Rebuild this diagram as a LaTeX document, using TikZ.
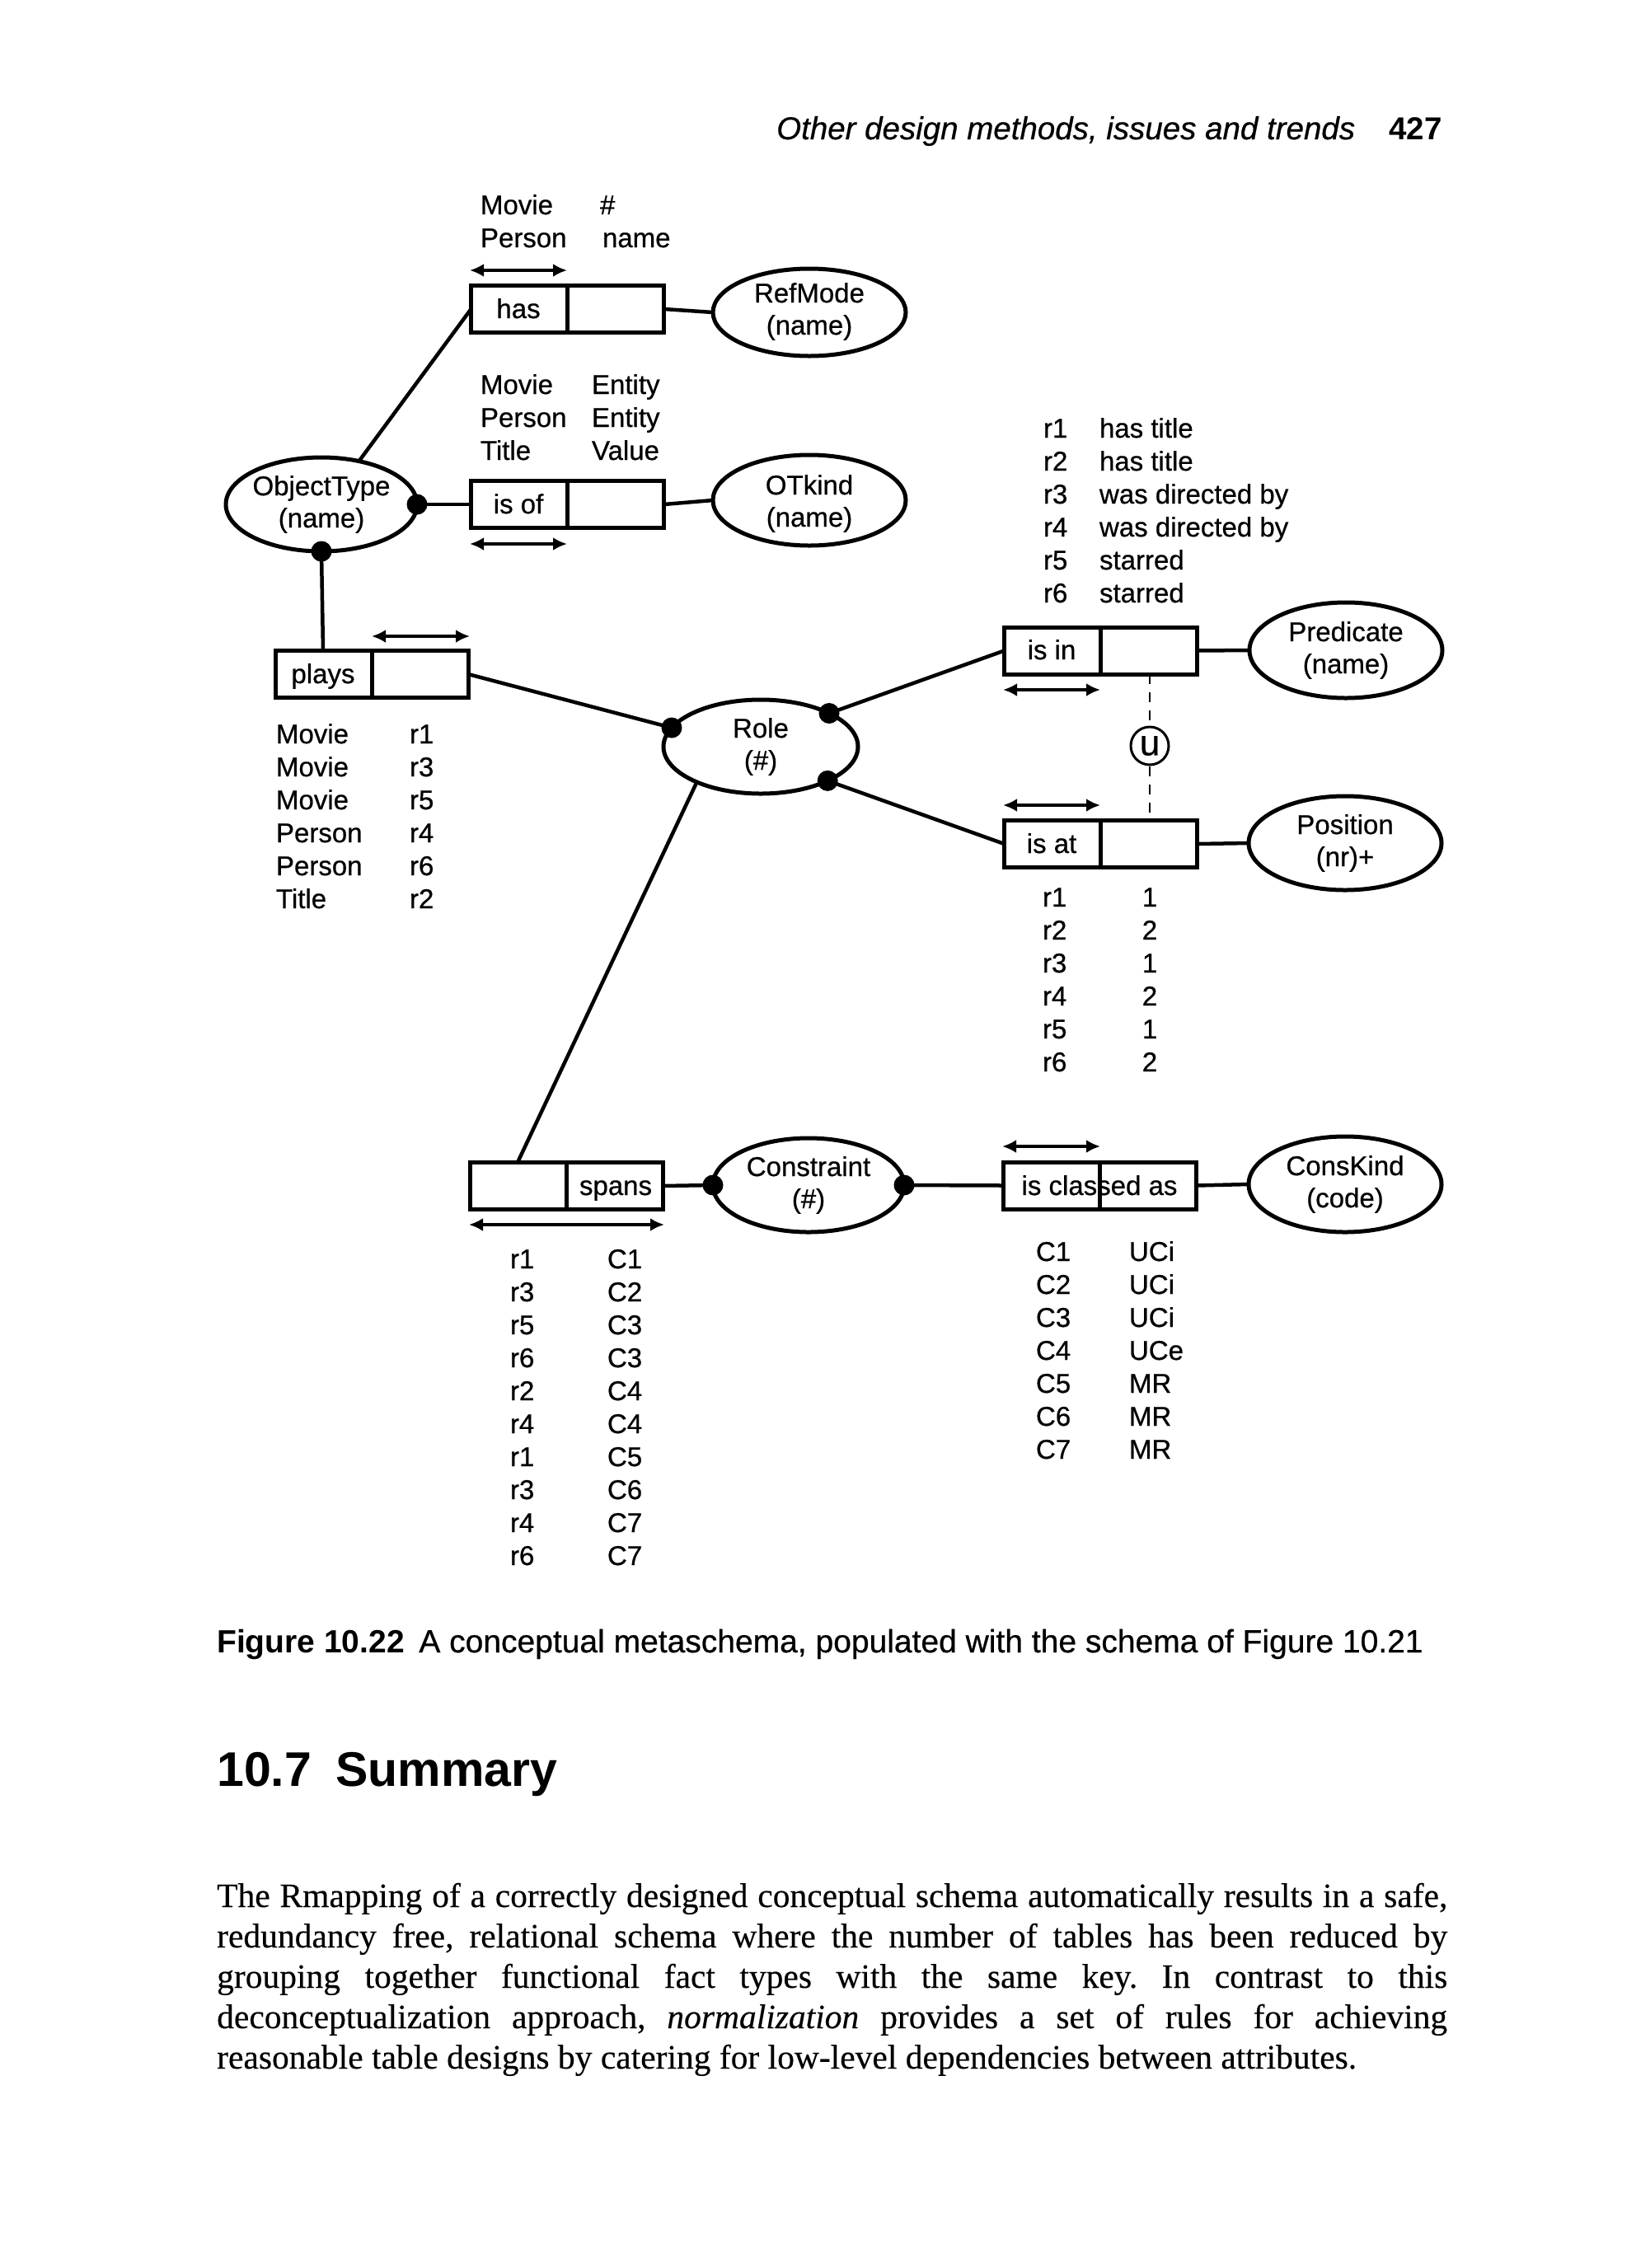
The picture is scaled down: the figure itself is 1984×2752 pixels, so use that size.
\documentclass[tikz,border=0pt]{standalone}
\usepackage{fontspec}
\setmainfont{Liberation Sans}
\newfontfamily\lblfont{Liberation Sans}[FakeBold=0.6]
\newfontfamily\bodyserif{Liberation Serif}[FakeBold=0.3]
\usetikzlibrary{shapes.geometric,arrows.meta}
\frenchspacing
\begin{document}
\begin{tikzpicture}[x=1pt,y=-1pt,
  lbl/.style={font=\lblfont\fontsize{33}{40}\selectfont, inner sep=0pt, outer sep=0pt, anchor=base west},
  ctr/.style={font=\lblfont\fontsize{33}{40}\selectfont, inner sep=0pt, outer sep=0pt, anchor=base},
  ent/.style={ellipse, draw, line width=5pt, minimum width=234pt, minimum height=114pt, inner sep=0pt, outer sep=0pt},
  fbox/.style={rectangle, draw, line width=5pt, minimum width=234pt, minimum height=57pt, inner sep=0pt, outer sep=0pt},
  conn/.style={line width=4.5pt},
  divider/.style={line width=5pt},
  uc/.style={line width=3.5pt, {Latex[length=17pt,width=16pt]}-{Latex[length=17pt,width=16pt]}},
  dot/.style={circle, fill, inner sep=0pt, outer sep=0pt, minimum size=25pt},
  dashline/.style={line width=2.5pt, dash pattern=on 12pt off 10pt},
]
\fill[white] (0,0) rectangle (1984,2752);
\useasboundingbox (0,0) rectangle (1984,2752);

% header
\node[anchor=base west, inner sep=0pt, font=\lblfont\fontsize{38.5}{46}\selectfont\itshape] (hdr) at (942,169) {Other design methods, issues and trends};
\node[anchor=base east, inner sep=0pt, font=\fontsize{38.5}{46}\selectfont\bfseries] (pg) at (1750,169) {427};

% entity ellipses
\node[ent, minimum height=106pt] (refmode) at (982,379) {};
\node[ent, minimum height=110pt] (otkind) at (982,607) {};
\node[ent, minimum width=232pt] (ot) at (390,612) {};
\node[ent, minimum width=236pt] (role) at (923,906) {};
\node[ent, minimum height=116pt] (pred) at (1633,789) {};
\node[ent] (pos) at (1632,1023) {};
\node[ent, minimum height=116pt] (ckind) at (1632,1437) {};
\node[ent, minimum width=232pt] (cons) at (981,1438) {};

% ellipse texts
\node[ctr] (refmode-a) at (982,367) {RefMode};
\node[ctr] (refmode-b) at (982,406) {(name)};
\node[ctr] (otkind-a) at (982,600) {OTkind};
\node[ctr] (otkind-b) at (982,639) {(name)};
\node[ctr] (ot-a) at (390,601) {ObjectType};
\node[ctr] (ot-b) at (390,640) {(name)};
\node[ctr] (role-a) at (923,895) {Role};
\node[ctr] (role-b) at (923,934) {(\#)};
\node[ctr] (pred-a) at (1633,778) {Predicate};
\node[ctr] (pred-b) at (1633,817) {(name)};
\node[ctr] (pos-a) at (1632,1012) {Position};
\node[ctr] (pos-b) at (1632,1051) {(nr)+};
\node[ctr] (ckind-a) at (1632,1426) {ConsKind};
\node[ctr] (ckind-b) at (1632,1465) {(code)};
\node[ctr] (cons-a) at (981,1427) {Constraint};
\node[ctr] (cons-b) at (981,1466) {(\#)};

% fact type boxes
\node[fbox] (has) at (688.5,375) {};
\node[fbox] (isof) at (688.5,612) {};
\node[fbox] (plays) at (451,818) {};
\node[fbox] (isin) at (1335.5,789.5) {};
\node[fbox] (isat) at (1335.5,1024) {};
\node[fbox] (iscl) at (1334,1438.5) {};
\node[fbox] (spans) at (687,1439) {};
\foreach \b in {has,isof,plays,isin,isat,iscl,spans}
  \draw[divider] (\b.north) -- (\b.south);

\node[ctr] (has-t) at (629,386) {has};
\node[ctr] (isof-t) at (629,623) {is of};
\node[ctr] (plays-t) at (392,829) {plays};
\node[ctr] (isin-t) at (1276,800) {is in};
\node[ctr] (isat-t) at (1276,1035) {is at};
\node[ctr] (iscl-t) at (1334,1450) {is classed as};
\node[ctr] (spans-t) at (747,1450) {spans};

% dots on entity borders
\node[dot] (d-ot-e) at (ot.east) {};
\node[dot] (d-ot-s) at (ot.south) {};
\node[dot] (d-role-w) at (role.168) {};
\node[dot] (d-role-ne) at (role.26) {};
\node[dot] (d-role-se) at (role.-27) {};
\node[dot] (d-cons-w) at (cons.west) {};
\node[dot] (d-cons-e) at (cons.east) {};

% connectors
\draw[conn] (ot.49) -- (has.west);
\draw[conn] (d-ot-e.center) -- (isof.west);
\draw[conn] (has.east) -- (refmode.west);
\draw[conn] (isof.east) -- (otkind.west);
\coordinate (plays-top) at (392,789.5);
\draw[conn] (d-ot-s.center) -- (plays-top);
\draw[conn] (plays.east) -- (d-role-w.center);
\draw[conn] (d-role-ne.center) -- (isin.west);
\draw[conn] (d-role-se.center) -- (isat.west);
\coordinate (spans-top) at (628,1410.5);
\draw[conn] (role.209) -- (spans-top);
\draw[conn] (spans.east) -- (d-cons-w.center);
\draw[conn] (d-cons-e.center) -- (iscl.west);
\draw[conn] (iscl.east) -- (ckind.west);
\draw[conn] (isin.east) -- (pred.west);
\draw[conn] (isat.east) -- (pos.west);

% uniqueness constraint
\node[circle, draw, line width=3pt, minimum size=46pt, inner sep=0pt, font=\lblfont\fontsize{44}{44}\selectfont] (uq) at (1395,905) {u};
\coordinate (isin-r) at (1395,818);
\coordinate (isat-r) at (1395,995.5);
\draw[dashline] (isin-r) -- (uq.north);
\draw[dashline] (uq.south) -- (isat-r);

% uniqueness arrows
\coordinate (u1a) at (570,328);   \coordinate (u1b) at (688,328);
\coordinate (u2a) at (570,660);   \coordinate (u2b) at (688,660);
\coordinate (u3a) at (451,772);   \coordinate (u3b) at (570,772);
\coordinate (u4a) at (1217,837);  \coordinate (u4b) at (1335,837);
\coordinate (u5a) at (1217,977);  \coordinate (u5b) at (1335,977);
\coordinate (u6a) at (1216,1391); \coordinate (u6b) at (1335,1391);
\coordinate (u7a) at (569,1486);  \coordinate (u7b) at (806,1486);
\draw[uc] (u1a) -- (u1b);
\draw[uc] (u2a) -- (u2b);
\draw[uc] (u3a) -- (u3b);
\draw[uc] (u4a) -- (u4b);
\draw[uc] (u5a) -- (u5b);
\draw[uc] (u6a) -- (u6b);
\draw[uc] (u7a) -- (u7b);

% population labels
\node[lbl] (h1a) at (583,260) {Movie};  \node[lbl] (h1b) at (728,260) {\#};
\node[lbl] (h2a) at (583,300) {Person}; \node[lbl] (h2b) at (731,300) {name};

\node[lbl] (k1a) at (583,478) {Movie};  \node[lbl] (k1b) at (718,478) {Entity};
\node[lbl] (k2a) at (583,518) {Person}; \node[lbl] (k2b) at (718,518) {Entity};
\node[lbl] (k3a) at (583,558) {Title};  \node[lbl] (k3b) at (718,558) {Value};

\foreach \r/\t [count=\i from 0] in {r1/has title,r2/has title,r3/was directed by,r4/was directed by,r5/starred,r6/starred}{
  \node[lbl] (p\i a) at (1266,531+40*\i) {\r};
  \node[lbl] (p\i b) at (1334,531+40*\i) {\t};
}
\foreach \o/\r [count=\i from 0] in {Movie/r1,Movie/r3,Movie/r5,Person/r4,Person/r6,Title/r2}{
  \node[lbl] (y\i a) at (335,902+40*\i) {\o};
  \node[lbl] (y\i b) at (497,902+40*\i) {\r};
}
\foreach \r/\n [count=\i from 0] in {r1/1,r2/2,r3/1,r4/2,r5/1,r6/2}{
  \node[lbl] (a\i a) at (1265,1100+40*\i) {\r};
  \node[ctr] (a\i b) at (1395,1100+40*\i) {\n};
}
\foreach \c/\k [count=\i from 0] in {C1/UCi,C2/UCi,C3/UCi,C4/UCe,C5/MR,C6/MR,C7/MR}{
  \node[lbl] (c\i a) at (1257,1530+40*\i) {\c};
  \node[lbl] (c\i b) at (1370,1530+40*\i) {\k};
}
\foreach \r/\c [count=\i from 0] in {r1/C1,r3/C2,r5/C3,r6/C3,r2/C4,r4/C4,r1/C5,r3/C6,r4/C7,r6/C7}{
  \node[lbl] (s\i a) at (619,1539+40*\i) {\r};
  \node[lbl] (s\i b) at (737,1539+40*\i) {\c};
}

% caption and section
\node[anchor=base west, inner sep=0pt, font=\lblfont\fontsize{39}{46}\selectfont] (cap) at (263,2005)
  {{\normalfont\fontsize{39}{46}\selectfont\bfseries Figure 10.22}\hspace{0.45em}A conceptual metaschema, populated with the schema of Figure 10.21};
\node[anchor=base west, inner sep=0pt, font=\fontsize{59}{70}\selectfont\bfseries] (sec) at (263,2167)
  {10.7\hspace{0.5em}Summary};

% paragraph
\tikzset{para/.style={anchor=base west, inner sep=0pt, font=\bodyserif\fontsize{41.5}{49}\selectfont}}
\node[para] (l1) at (263,2314) {\makebox[1493pt][s]{The Rmapping of a correctly designed conceptual schema automatically results in a safe,}};
\node[para] (l2) at (263,2363) {\makebox[1493pt][s]{redundancy free, relational schema where the number of tables has been reduced by}};
\node[para] (l3) at (263,2412) {\makebox[1493pt][s]{grouping together functional fact types with the same key. In contrast to this}};
\node[para] (l4) at (263,2461) {\makebox[1493pt][s]{deconceptualization approach, \textit{normalization} provides a set of rules for achieving}};
\node[para] (l5) at (263,2510) {reasonable table designs by catering for low-level dependencies between attributes.};
\end{tikzpicture}
\end{document}
